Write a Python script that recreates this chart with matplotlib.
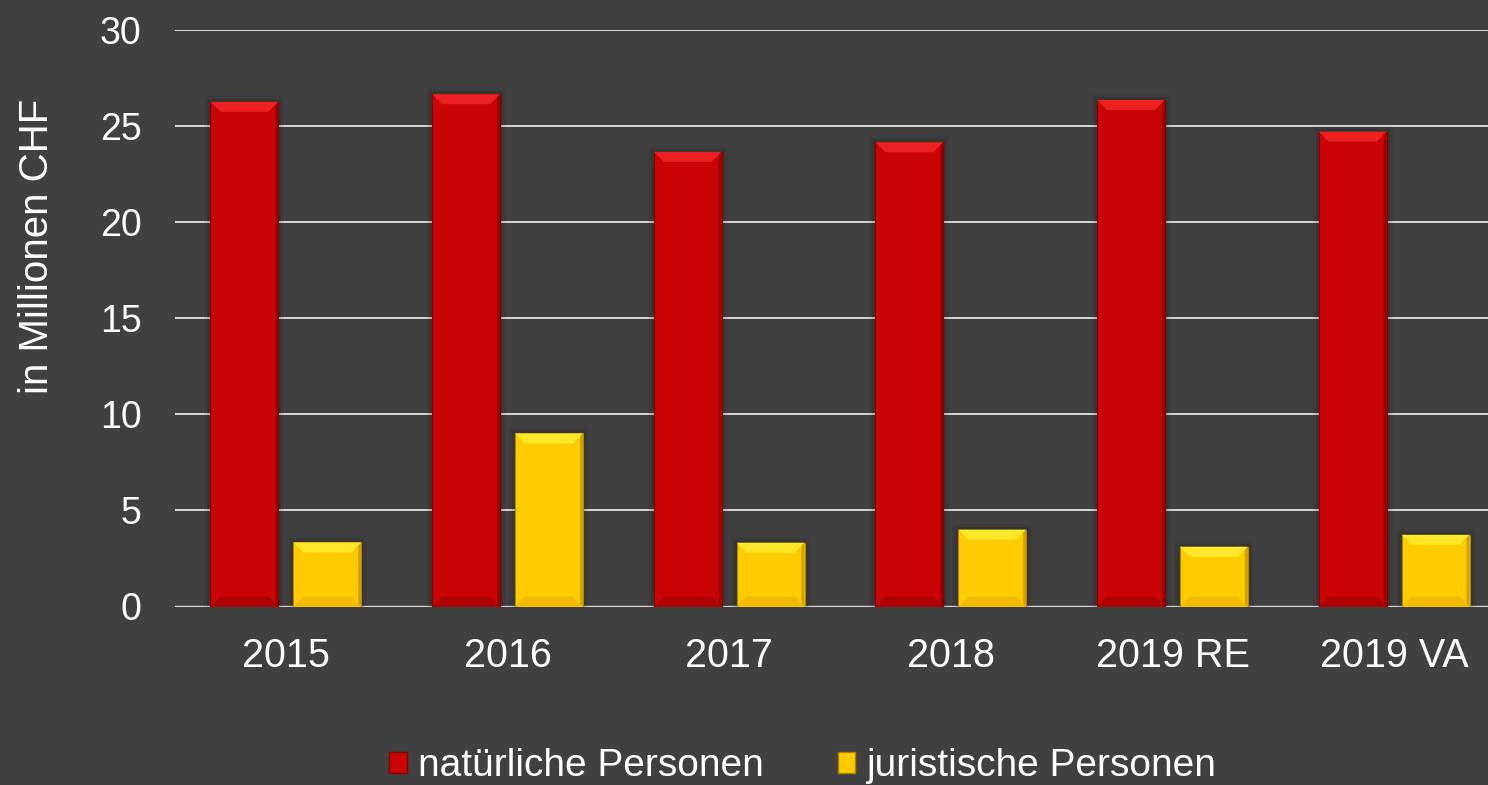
import matplotlib
matplotlib.use('Agg')
import matplotlib.pyplot as plt
from matplotlib.patches import Polygon, Rectangle
import numpy as np

# ---------------------------------------------------------------
# Data (in Millionen CHF)
# ---------------------------------------------------------------
categories = ['2015', '2016', '2017', '2018', '2019 RE', '2019 VA']
natuerliche = [26.25, 26.65, 23.65, 24.15, 26.35, 24.7]
juristische = [3.33, 9.0, 3.32, 4.0, 3.11, 3.73]
series_names = ['natürliche Personen', 'juristische Personen']

# Colours
BG = '#404040'
GRID = '#D9D9D9'
RED = '#C80404'
RED_LIGHT = '#EC2020'
RED_DARK = '#8A0000'
YEL = '#FFCC00'
YEL_LIGHT = '#FFE82A'
YEL_DARK = '#E0A800'

plt.rcParams['font.family'] = ['Liberation Sans', 'DejaVu Sans']

W, H = 1488, 785
fig = plt.figure(figsize=(W / 100, H / 100), dpi=100, facecolor=BG)
ax = fig.add_axes([175 / W, 1 - 606.5 / H, (1505 - 175) / W, (606.5 - 29.8) / H])
ax.set_facecolor(BG)

x = np.arange(len(categories))
offset = 0.187
width = 0.306

ax.set_xlim(-0.5, len(categories) - 0.5)
ax.set_ylim(0, 30)

# gridlines
ax.set_yticks(np.arange(0, 31, 5))
ax.yaxis.grid(True, color=GRID, linewidth=1.4, zorder=0)
ax.set_axisbelow(True)
for s in ax.spines.values():
    s.set_visible(False)
ax.axhline(0, color=GRID, linewidth=2.4, zorder=2)

bars_n = ax.bar(x - offset, natuerliche, width, color=RED, edgecolor=RED_DARK,
                linewidth=0.8, zorder=3, label=series_names[0])
bars_j = ax.bar(x + offset, juristische, width, color=YEL, edgecolor='#B08600',
                linewidth=0.8, zorder=3, label=series_names[1])


def to_data(pts):
    inv = ax.transData.inverted()
    return inv.transform(pts)


def bevel(bars, light, dark, side):
    d = 10  # bevel depth in pixels
    for b in bars:
        (px0, py0) = ax.transData.transform((b.get_x(), b.get_y()))
        (px1, py1) = ax.transData.transform((b.get_x() + b.get_width(), b.get_y() + b.get_height()))
        # soft shadow
        for grow, a in [(6, 0.06), (3, 0.10)]:
            sh = to_data([(px0 - grow, py0), (px1 + grow, py1 + grow)])
            ax.add_patch(Rectangle(sh[0], sh[1][0] - sh[0][0], sh[1][1] - sh[0][1],
                                   color='black', alpha=a, lw=0, zorder=2.5))
        top = [(px0, py1), (px1, py1), (px1 - d, py1 - d), (px0 + d, py1 - d)]
        bot = [(px0, py0), (px1, py0), (px1 - d, py0 + d), (px0 + d, py0 + d)]
        right = [(px1, py1), (px1, py0), (px1 - 3, py0 + 3), (px1 - 3, py1 - 3)]
        ax.add_patch(Polygon(to_data(top), closed=True, color=light, lw=0, zorder=4))
        ax.add_patch(Polygon(to_data(bot), closed=True, color=dark, lw=0, alpha=0.45, zorder=4))
        ax.add_patch(Polygon(to_data(right), closed=True, color=side, lw=0, alpha=0.7, zorder=4))


bevel(bars_n, RED_LIGHT, RED_DARK, RED_DARK)
bevel(bars_j, YEL_LIGHT, YEL_DARK, '#C09000')

# ticks
ax.set_xticks(x)
ax.set_xticklabels(categories)
ax.tick_params(axis='x', length=0, pad=22, labelsize=28.5, colors='white')
ax.tick_params(axis='y', length=0, pad=24, labelsize=27, colors='white')

fig.text(37 / W, 1 - 246 / H, 'in Millionen CHF', rotation=90, ha='center', va='center',
         fontsize=29, color='white')

# legend
handles = [Rectangle((0, 0), 1, 1, facecolor=RED, edgecolor=RED_DARK),
           Rectangle((0, 0), 1, 1, facecolor=YEL, edgecolor='#B08600')]
fig.legend(handles, series_names, loc='center', bbox_to_anchor=(803 / W, 1 - 766 / H),
           ncol=2, frameon=False, fontsize=28, labelcolor='white',
           handlelength=0.45, handleheight=0.45, handletextpad=0.3, columnspacing=1.9,
           borderaxespad=0, borderpad=0)

fig.savefig('out.png', dpi=100, facecolor=BG)
